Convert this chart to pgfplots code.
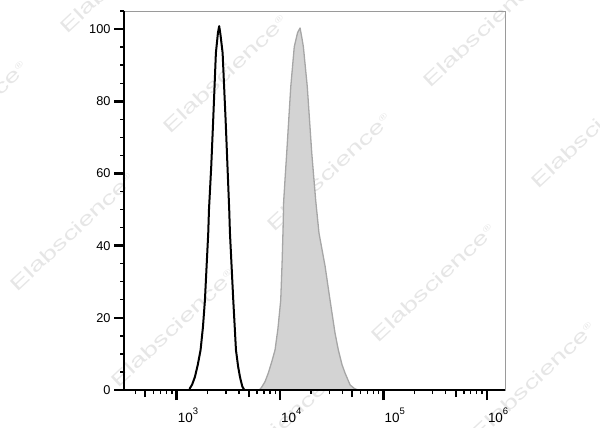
\documentclass[border=0pt]{standalone}
\usepackage{fontspec}
\setmainfont{Liberation Sans}
\usepackage{pgfplots}
\pgfplotsset{compat=1.18}
\definecolor{fillgray}{HTML}{D3D3D3}
\definecolor{edgegray}{HTML}{A6A6A6}
\definecolor{wm}{HTML}{E6E6E6}
\definecolor{boxgray}{HTML}{9A9A9A}
\newcommand{\tenp}[1]{\mbox{\fontsize{13.5}{14}\selectfont 10\raisebox{8bp}{\fontsize{9.5}{10}\selectfont #1}}}
\begin{document}
\begin{tikzpicture}[x=1bp,y=1bp]
\path[use as bounding box] (-124,-37) rectangle (476,390);
\foreach \px/\py in {225/74, 485/28, 122/-26, -35/120, 329/172, 593/129, 72/232, 173/328, 433/283, 533/381, 271/434} {
  \node[text=wm, rotate=43, xscale=1.5, inner sep=0pt, font=\fontsize{19}{19}\selectfont] at ({\px-124},{390-\py}) {Elabscience\raisebox{7bp}{\fontsize{8}{8}\selectfont\textregistered}};
}
\begin{axis}[
  at={(0,0)}, anchor=south west,
  scale only axis, width=381bp, height=379bp,
  xmode=log, xmin=310, xmax=1.5e6, ymin=0, ymax=105,
  axis line style={draw=boxgray, line width=0.8bp},
  xtick={1000,10000,100000,1000000},
  xticklabels={\tenp{3},\tenp{4},\tenp{5},\tenp{6}},
  minor xtick={400,600,700,800,900,2000,3000,4000,6000,7000,8000,9000,20000,30000,40000,60000,70000,80000,90000,200000,300000,400000,600000,700000,800000,900000},
  extra x ticks={500,5000,50000,500000},
  extra x tick labels={},
  extra x tick style={major tick length=7bp, major tick style={line width=2bp, black}},
  ytick={0,20,40,60,80,100},
  minor ytick={5,10,15,25,30,35,45,50,55,65,70,75,85,90,95,105},
  xtick pos=bottom, ytick pos=left,
  tick align=outside,
  major tick length=10bp, minor tick length=4bp,
  major tick style={line width=2.6bp, black},
  minor tick style={line width=1.3bp, black},
  xticklabel style={anchor=north west, inner sep=0pt, xshift=1bp, yshift=-8bp},
  yticklabel style={font=\fontsize{12.8}{14}\selectfont, anchor=east},
  /pgf/number format/assume math mode=true,
  clip=false,
]
\addplot[fill=fillgray, draw=edgegray, line width=1.3bp, line join=round] coordinates {
(6310,0) (6653,0.8) (7161,2.3) (7709,4.7) (8318,7.8) (8954,11.1) (9550,17)
(10162,24.9) (10471,35) (10715,45) (10839,52) (11220,59) (11614,65.7)
(12706,84.0) (13740,95.1) (14791,99) (15631,100.3) (16293,97.5) (16827,95.1)
(18365,84.0) (20277,65.7) (22131,52.6) (23823,43.5) (27290,34.3) (30479,24.9)
(34041,15.8) (36644,11.1) (39811,7) (42560,4.7) (47643,1.4) (52481,0.4) (56885,0)
} \closedcycle;
\addplot[black, line width=2bp, line join=round] coordinates {
(1334,0) (1346,0.5) (1413,1.5) (1503,3.6) (1603,7) (1706,11.1) (1799,17.5)
(1879,24.9) (2023,43.5) (2056,49.9) (2163,62) (2259,74.8) (2399,93.4)
(2512,99) (2582,100.8) (2655,98.5) (2786,93.4) (2979,74.8) (3105,62)
(3228,49.9) (3281,43.5) (3532,24.9) (3648,17.5) (3750,11.1) (3936,6.5)
(4102,3.6) (4315,1.0) (4519,0)
};
\end{axis}
\draw[black, line width=2bp] (0,379.4) -- (0,0) -- (381,0);
\end{tikzpicture}
\end{document}
